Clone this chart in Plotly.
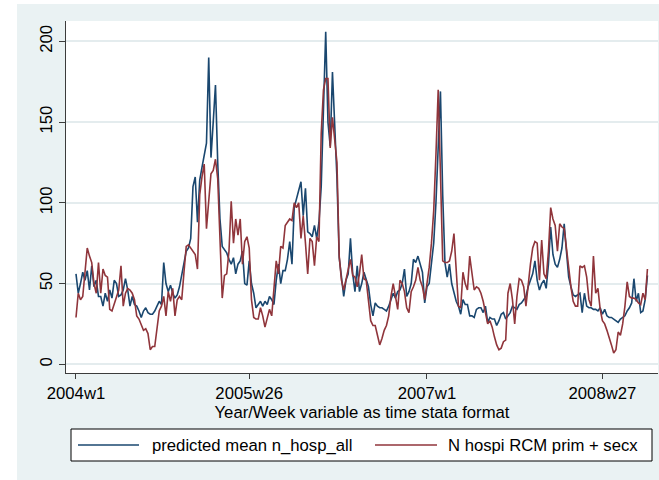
import plotly.graph_objects as go

# Weekly series, week 0 = 2004w1 (Stata %tw, 52 weeks per year)
predicted = [
    56, 44, 50, 57, 52, 58, 46, 61, 48, 52,
    42, 42, 36, 44, 39, 46, 41, 52, 50, 42,
    43, 46, 53, 46, 36, 42, 37, 36, 33, 29,
    33, 35, 32, 31, 31, 33, 36, 39, 37, 63,
    50, 45, 49, 44, 41, 43, 48, 55, 61, 70,
    72, 78, 110, 116, 88, 114, 122, 130, 137, 190,
    128, 150, 173, 125, 90, 73, 71, 69, 65, 62,
    66, 56, 62, 64, 70, 50, 49, 64, 50, 44,
    35, 37, 39, 36, 39, 37, 42, 40, 37, 52,
    62, 50, 58, 58, 65, 76, 62, 97, 103, 108,
    113, 92, 109, 82, 81, 79, 86, 78, 88, 110,
    160, 206, 150, 135, 181, 150, 115, 66, 55, 42,
    52, 56, 78, 56, 45, 61, 45, 50, 57, 52,
    48, 37, 30, 38, 36, 35, 35, 34, 33, 36,
    40, 44, 41, 45, 46, 50, 59, 42, 45, 50,
    65, 63, 67, 62, 57, 38, 48, 50, 62, 75,
    100, 130, 169, 105, 63, 54, 62, 50, 44, 39,
    36, 31, 40, 37, 37, 30, 30, 29, 34, 35,
    35, 32, 36, 26, 29, 28, 28, 24, 27, 31,
    32, 28, 30, 32, 36, 35, 34, 37, 38, 40,
    42, 48, 52, 56, 64, 52, 46, 50, 52, 47,
    62, 85, 68, 62, 60, 65, 72, 87, 70, 54,
    48, 43, 42, 43, 44, 32, 44, 36, 35, 35,
    34, 34, 33, 35, 31, 34, 30, 29, 29, 28,
    27, 26, 28, 29, 30, 33, 35, 38, 53, 39,
    44, 32, 33, 40, 55,
]

observed = [
    29, 44, 40, 42, 57, 72, 67, 63, 50, 44,
    63, 44, 59, 55, 54, 34, 33, 37, 42, 46,
    61, 36, 44, 47, 46, 44, 40, 30, 28, 24,
    21, 22, 19, 9, 11, 11, 21, 33, 36, 42,
    30, 45, 39, 47, 30, 40, 42, 40, 57, 73,
    74, 72, 70, 68, 59, 105, 116, 124, 84, 100,
    118, 120, 127, 115, 80, 41, 55, 56, 70, 101,
    75, 90, 80, 90, 62, 76, 79, 72, 40, 29,
    28, 28, 35, 30, 23, 29, 34, 30, 45, 64,
    56, 73, 72, 86, 88, 90, 89, 100, 97, 100,
    78, 92, 75, 56, 78, 76, 61, 79, 76, 143,
    170, 177, 177, 134, 153, 140, 125, 67, 52, 46,
    52, 58, 65, 55, 54, 48, 56, 68, 53, 52,
    40, 27, 24, 24, 18, 12, 16, 21, 24, 30,
    42, 50, 42, 34, 52, 50, 45, 35, 32, 45,
    48, 52, 60, 52, 48, 40, 50, 60, 75, 95,
    130, 170, 118, 64, 63, 63, 64, 70, 81, 55,
    36, 35, 57, 50, 46, 67, 55, 46, 48, 47,
    44, 39, 32, 25, 27, 23, 17, 12, 9, 10,
    14, 15, 44, 50, 40, 25, 42, 53, 52, 48,
    36, 50, 62, 72, 76, 75, 52, 77, 56, 53,
    70, 97, 90, 86, 70, 87, 85, 84, 70, 60,
    48, 39, 36, 36, 61, 60, 61, 54, 40, 36,
    67, 44, 47, 34, 27, 25, 21, 17, 12, 7,
    9, 20, 18, 25, 36, 51, 42, 41, 41, 40,
    38, 37, 44, 40, 59,
]

week_idx = list(range(len(predicted)))
tick_weeks = [0, 77, 156, 234]
tick_labels = ["2004w1", "2005w26", "2007w1", "2008w27"]
y_ticks = [0, 50, 100, 150, 200]

series_names = ["predicted mean n_hosp_all", "N hospi RCM prim + secx"]

BG = "#EAF2F3"
GRID = "#E4ECEE"
NAVY = "#1A476F"
MAROON = "#90353B"
AXIS = "#3C3C3C"
FONT = "Liberation Sans, Arial, sans-serif"
FS = 16.7

W, H = 659, 480
L, R, T, B = 66, 1, 21, 107
PW, PH = W - L - R, H - T - B


def px(x):
    return (x - L) / PW


def py(y):
    return (H - B - y) / PH


fig = go.Figure()
fig.add_trace(go.Scatter(x=week_idx, y=predicted, mode="lines",
                         line=dict(color=NAVY, width=1.6),
                         name=series_names[0], showlegend=False))
fig.add_trace(go.Scatter(x=week_idx, y=observed, mode="lines",
                         line=dict(color=MAROON, width=1.6),
                         name=series_names[1], showlegend=False))

shapes = [
    # white page edges around the graph region
    dict(type="rect", xref="paper", yref="paper", x0=px(0), x1=px(17),
         y0=py(H), y1=py(0), fillcolor="white", line=dict(width=0), layer="above"),
    dict(type="rect", xref="paper", yref="paper", x0=px(0), x1=px(W),
         y0=py(4), y1=py(0), fillcolor="white", line=dict(width=0), layer="above"),
    # legend box
    dict(type="rect", xref="paper", yref="paper", x0=px(71), x1=px(652),
         y0=py(461), y1=py(429), fillcolor="white",
         line=dict(color="black", width=1), layer="above"),
    dict(type="line", xref="paper", yref="paper", x0=px(78), x1=px(139),
         y0=py(445), y1=py(445), line=dict(color=NAVY, width=1.6), layer="above"),
    dict(type="line", xref="paper", yref="paper", x0=px(375), x1=px(437),
         y0=py(445), y1=py(445), line=dict(color=MAROON, width=1.6), layer="above"),
]

annotations = [
    dict(xref="paper", yref="paper", x=px(150), y=py(445), text=series_names[0],
         showarrow=False, xanchor="left", yanchor="middle",
         font=dict(family=FONT, size=FS, color="black")),
    dict(xref="paper", yref="paper", x=px(446), y=py(445), text=series_names[1],
         showarrow=False, xanchor="left", yanchor="middle",
         font=dict(family=FONT, size=FS, color="black")),
]

fig.update_layout(
    width=W, height=H,
    margin=dict(l=L, r=R, t=T, b=B, pad=0),
    paper_bgcolor=BG,
    plot_bgcolor="white",
    font=dict(family=FONT, size=FS, color="black"),
    showlegend=False,
    shapes=shapes,
    annotations=annotations,
    xaxis=dict(
        range=[-4.44, 258.7],
        tickmode="array", tickvals=tick_weeks, ticktext=tick_labels,
        ticks="outside", ticklen=5, tickwidth=1, tickcolor=AXIS,
        showline=True, linecolor=AXIS, linewidth=1,
        showgrid=False, zeroline=False,
        tickfont=dict(family=FONT, size=FS, color="black"),
        title=dict(text="Year/Week variable as time stata format",
                   font=dict(family=FONT, size=FS, color="black"), standoff=0),
    ),
    yaxis=dict(
        range=[-5.4, 212.6],
        tickmode="array", tickvals=y_ticks,
        ticks="outside", ticklen=6, tickwidth=1, tickcolor=AXIS,
        showline=True, linecolor=AXIS, linewidth=1,
        showgrid=True, gridcolor=GRID, gridwidth=1.5,
        zeroline=False, tickangle=-90,
        tickfont=dict(family=FONT, size=FS, color="black"),
    ),
)

fig.write_html("out.html")
